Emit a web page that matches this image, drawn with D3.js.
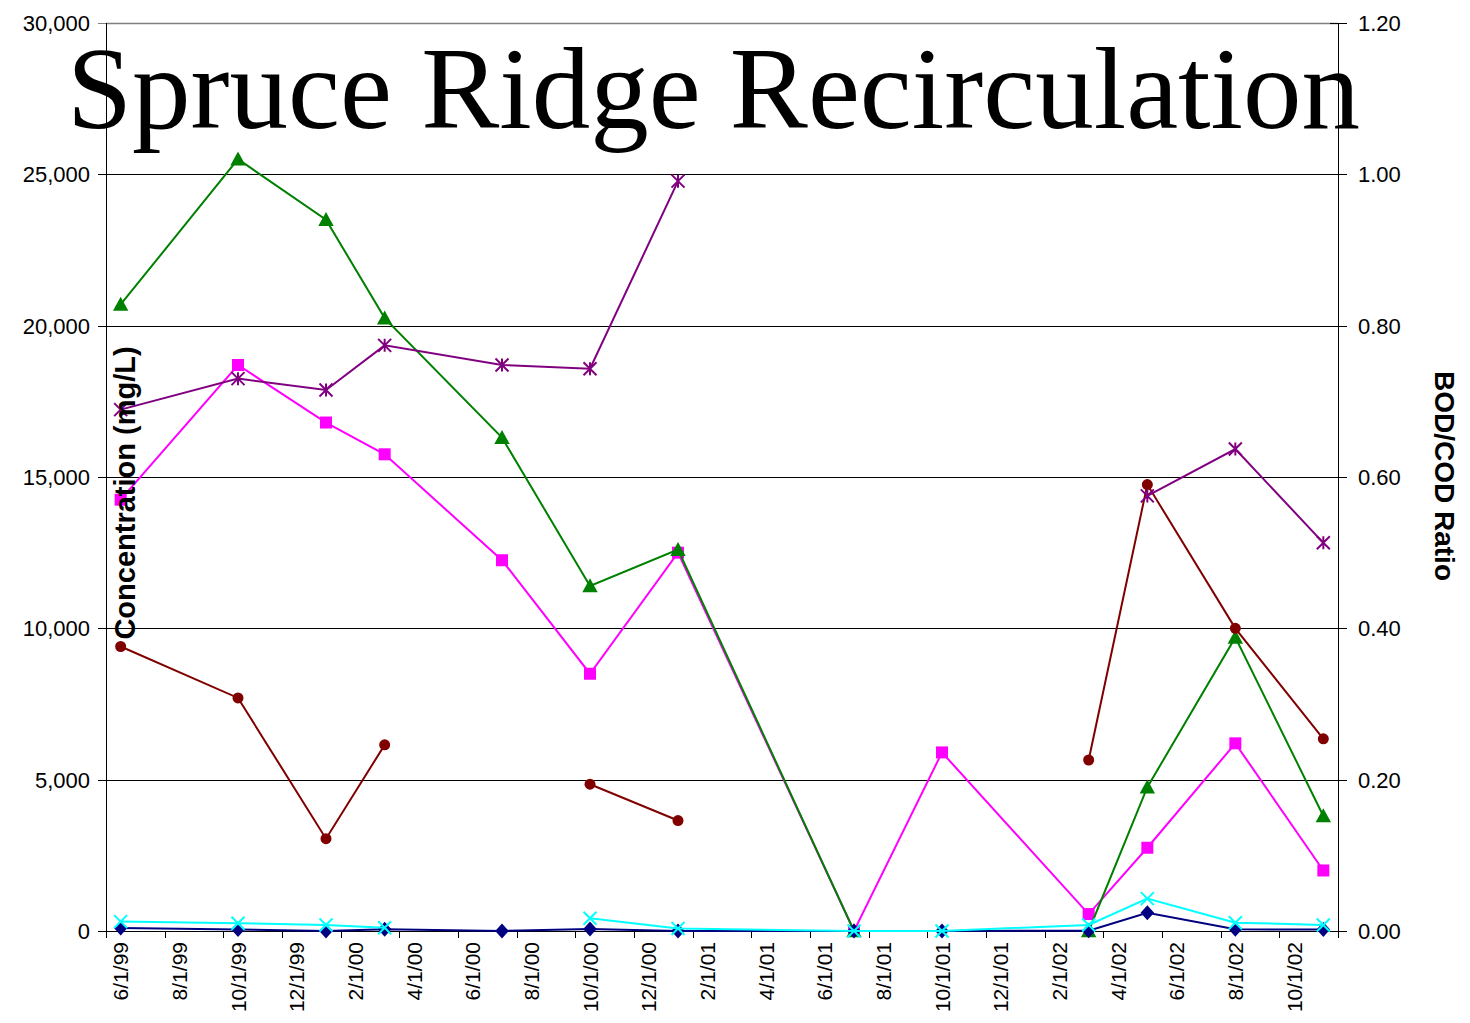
<!DOCTYPE html>
<html>
<head>
<meta charset="utf-8">
<script src="https://cdn.jsdelivr.net/npm/d3@7"></script>
<style>
  body { margin: 0; background: #fff; }
  svg  { display: block; }
  text { font-family: "Liberation Sans", Arial, sans-serif; fill: #000; }
</style>
</head>
<body>
<svg id="chart" width="1470" height="1023"></svg>
<script>
// Sampling dates (one per month slot on the axis).
const sampleDates   = [ '6/1/99', '10/1/99', '1/1/00', '3/1/00', '7/1/00', '10/1/00', '1/1/01',
                        '7/1/01', '10/1/01', '3/1/02', '5/1/02', '8/1/02', '11/1/02' ];

// Concentrations, mg/L (left axis). null = no sample.
const codValues      = [ 20700, 25500, 23500, 20250, 16300, 11400, 12600, 0, null, 0, 4750, 9700, 3800 ];
const bodValues      = [ 14250, 18700, 16800, 15750, 12250, 8500, 12500, 0, 5900, 560, 2750, 6200, 2000 ];
const ammoniaValues  = [ 9400, 7700, 3050, 6150, null, 4850, 3650, null, null, 5650, 14750, 10000, 6350 ];
const navyValues     = [ 100, 50, 0, 55, 0, 65, 0, 0, 0, 10, 600, 55, 50 ];
const cyanValues     = [ 310, 255, 200, 110, null, 420, 80, 0, 0, 200, 1070, 275, 200 ];

// BOD/COD ratio (right axis).
const ratioValues    = [ 0.689, 0.730, 0.715, 0.774, 0.748, 0.743, 0.991, null, null, null, 0.575, 0.637, 0.513 ];

// Axis ticks.
const leftTicks  = [ 0, 5000, 10000, 15000, 20000, 25000, 30000 ];
const rightTicks = [ 0, 0.2, 0.4, 0.6, 0.8, 1.0, 1.2 ];
const firstMonth = '6/1/99';
const lastMonth  = '11/1/02';

const parse  = d3.timeParse( '%m/%d/%y' );
const fmtDay = d3.timeFormat( '%-m/%-d/%y' );
const key    = d3.timeFormat( '%Y-%m' );

const plot = { left: 106, right: 1338, top: 23, bottom: 931 };

const svg = d3.select( '#chart' );

// Month slots, Excel-style date axis with base unit = months.
const months = d3.timeMonth.range( parse( firstMonth ), d3.timeMonth.offset( parse( lastMonth ), 1 ) );
const x = d3.scaleBand( )
  .domain( months.map( key ) )
  .range( [ plot.left, plot.right ] );
const xc = d => x( key( parse( d ) ) ) + x.bandwidth( ) / 2;

const yL = d3.scaleLinear( ).domain( [ 0, 30000 ] ).range( [ plot.bottom, plot.top ] );
const yR = d3.scaleLinear( ).domain( [ 0, 1.2 ] ).range( [ plot.bottom, plot.top ] );

// Gridlines.
svg.append( 'g' ).selectAll( 'line' )
  .data( leftTicks.slice( 1, -1 ) )
  .join( 'line' )
    .attr( 'x1', plot.left ).attr( 'x2', plot.right )
    .attr( 'y1', d => Math.round( yL( d ) ) + 0.5 ).attr( 'y2', d => Math.round( yL( d ) ) + 0.5 )
    .attr( 'stroke', '#000' ).attr( 'stroke-width', 1 );

svg.append( 'line' )
  .attr( 'x1', plot.left ).attr( 'x2', plot.right )
  .attr( 'y1', plot.top + 0.5 ).attr( 'y2', plot.top + 0.5 )
  .attr( 'stroke', '#808080' ).attr( 'stroke-width', 1.5 );

// Left axis.
const left = svg.append( 'g' );
left.append( 'line' )
  .attr( 'x1', plot.left + 0.5 ).attr( 'x2', plot.left + 0.5 )
  .attr( 'y1', plot.top ).attr( 'y2', plot.bottom + 7 )
  .attr( 'stroke', '#000' );
left.selectAll( '.tick' )
  .data( leftTicks )
  .join( 'line' )
    .attr( 'x1', plot.left - 8 ).attr( 'x2', plot.left )
    .attr( 'y1', d => Math.round( yL( d ) ) + 0.5 ).attr( 'y2', d => Math.round( yL( d ) ) + 0.5 )
    .attr( 'stroke', d => d === 30000 ? '#808080' : '#000' );
left.selectAll( 'text' )
  .data( leftTicks )
  .join( 'text' )
    .attr( 'x', 90 )
    .attr( 'y', d => yL( d ) )
    .attr( 'dy', '0.36em' )
    .attr( 'text-anchor', 'end' )
    .style( 'font-size', '22px' )
    .text( d3.format( ',' ) );

// Right axis.
const right = svg.append( 'g' );
right.append( 'line' )
  .attr( 'x1', plot.right + 0.5 ).attr( 'x2', plot.right + 0.5 )
  .attr( 'y1', plot.top ).attr( 'y2', plot.bottom + 7 )
  .attr( 'stroke', '#000' );
right.selectAll( '.tick' )
  .data( rightTicks )
  .join( 'line' )
    .attr( 'x1', plot.right - 8 ).attr( 'x2', plot.right + 9 )
    .attr( 'y1', d => Math.round( yR( d ) ) + 0.5 ).attr( 'y2', d => Math.round( yR( d ) ) + 0.5 )
    .attr( 'stroke', '#000' );
right.selectAll( 'text' )
  .data( rightTicks )
  .join( 'text' )
    .attr( 'x', 1358 )
    .attr( 'y', d => yR( d ) )
    .attr( 'dy', '0.36em' )
    .style( 'font-size', '22px' )
    .text( d3.format( '.2f' ) );

// Bottom (date) axis: a tick every two month slots, label at slot centre.
const bottom = svg.append( 'g' );
bottom.append( 'line' )
  .attr( 'x1', plot.left ).attr( 'x2', plot.right )
  .attr( 'y1', plot.bottom + 0.5 ).attr( 'y2', plot.bottom + 0.5 )
  .attr( 'stroke', '#000' );
const tickMonths = months.filter( ( d, i ) => i % 2 === 0 );
bottom.selectAll( '.tick' )
  .data( tickMonths.map( d => x( key( d ) ) ).concat( [ plot.right ] ) )
  .join( 'line' )
    .attr( 'x1', d => Math.round( d ) + 0.5 ).attr( 'x2', d => Math.round( d ) + 0.5 )
    .attr( 'y1', plot.bottom ).attr( 'y2', plot.bottom + 7 )
    .attr( 'stroke', '#000' );
bottom.selectAll( 'text' )
  .data( tickMonths )
  .join( 'text' )
    .attr( 'transform', d => `translate(${ x( key( d ) ) + x.bandwidth( ) / 2 },942) rotate(-90)` )
    .attr( 'dy', '0.36em' )
    .attr( 'text-anchor', 'end' )
    .style( 'font-size', '21px' )
    .text( fmtDay );

// Markers.
const markers = {
  triangle: s => `M0,${ -s * 0.55 }L${ s * 0.55 },${ s * 0.45 }L${ -s * 0.55 },${ s * 0.45 }Z`,
  square:   s => `M${ -s / 2 },${ -s / 2 }h${ s }v${ s }h${ -s }Z`,
  diamond:  s => `M0,${ -s / 2 }L${ s * 0.45 },0L0,${ s / 2 }L${ -s * 0.45 },0Z`,
  circle:   s => d3.symbol( d3.symbolCircle, Math.PI * s * s / 4 )( ),
  cross:    s => `M${ -s / 2 },${ -s / 2 }L${ s / 2 },${ s / 2 }M${ s / 2 },${ -s / 2 }L${ -s / 2 },${ s / 2 }`,
  star:     s => `M${ -s / 2 },${ -s / 2 }L${ s / 2 },${ s / 2 }M${ s / 2 },${ -s / 2 }L${ -s / 2 },${ s / 2 }M0,${ -s / 2 }V${ s / 2 }`
};

const series = [
  { values: bodValues,     y: yL, color: '#FF00FF', marker: 'square',   size: 12 },
  { values: codValues,     y: yL, color: '#008000', marker: 'triangle', size: 14 },
  { values: ammoniaValues, y: yL, color: '#800000', marker: 'circle',   size: 11 },
  { values: navyValues,    y: yL, color: '#000080', marker: 'diamond',  size: 15 },
  { values: cyanValues,    y: yL, color: '#00FFFF', marker: 'cross',    size: 13 },
  { values: ratioValues,   y: yR, color: '#800080', marker: 'star',     size: 13 }
];

series.forEach( s => {
  const pts = sampleDates.map( ( d, i ) => ( { x: xc( d ), v: s.values[ i ] } ) );
  const line = d3.line( )
    .defined( p => p.v !== null )
    .x( p => p.x )
    .y( p => s.y( p.v ) );

  const g = svg.append( 'g' );
  g.append( 'path' )
    .attr( 'd', line( pts ) )
    .attr( 'fill', 'none' )
    .attr( 'stroke', s.color )
    .attr( 'stroke-width', 2 );

  const lineMarker = s.marker === 'cross' || s.marker === 'star';
  g.selectAll( 'path.m' )
    .data( pts.filter( p => p.v !== null ) )
    .join( 'path' )
      .attr( 'class', 'm' )
      .attr( 'transform', p => `translate(${ p.x },${ s.y( p.v ) })` )
      .attr( 'd', markers[ s.marker ]( s.size ) )
      .attr( 'fill', lineMarker ? 'none' : s.color )
      .attr( 'stroke', s.color )
      .attr( 'stroke-width', lineMarker ? 2 : 0 );
} );

// Axis titles.
svg.append( 'text' )
  .attr( 'transform', 'translate(125,493) rotate(-90)' )
  .attr( 'dy', '0.36em' )
  .attr( 'text-anchor', 'middle' )
  .style( 'font-size', '29px' ).style( 'font-weight', 'bold' )
  .text( 'Concentration (mg/L)' );

svg.append( 'text' )
  .attr( 'transform', 'translate(1445,476) rotate(90)' )
  .attr( 'dy', '0.36em' )
  .attr( 'text-anchor', 'middle' )
  .style( 'font-size', '28px' ).style( 'font-weight', 'bold' )
  .text( 'BOD/COD Ratio' );

// Slide title, overlapping the plot.
svg.append( 'text' )
  .attr( 'x', 67 )
  .attr( 'y', 128 )
  .style( 'font-family', '"Liberation Serif", "Times New Roman", serif' )
  .style( 'font-size', '117px' )
  .text( 'Spruce Ridge Recirculation' );
</script>
</body>
</html>
